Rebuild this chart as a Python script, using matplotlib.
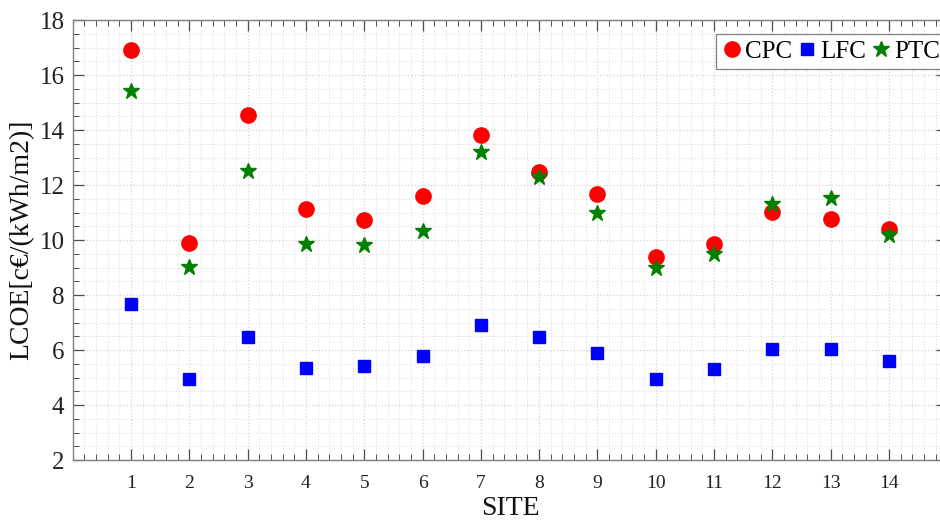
import numpy as np
import matplotlib
matplotlib.use("Agg")
import matplotlib.pyplot as plt
from matplotlib.ticker import MultipleLocator

plt.rcParams["font.family"] = ["Liberation Serif", "DejaVu Serif"]

# --- Datos --------------------------------------------------------------------
sites = [1, 2, 3, 4, 5, 6, 7, 8, 9, 10, 11, 12, 13, 14]
cpc = [16.91, 9.88, 14.55, 11.12, 10.73, 11.60, 13.82, 12.48, 11.66, 9.39, 9.84, 11.01, 10.76, 10.40]
lfc = [7.66, 4.93, 6.48, 5.33, 5.43, 5.77, 6.91, 6.48, 5.88, 4.93, 5.30, 6.05, 6.03, 5.60]
ptc = [15.43, 9.03, 12.52, 9.85, 9.83, 10.34, 13.19, 12.30, 10.97, 8.97, 9.49, 11.30, 11.51, 10.18]

fig = plt.figure(figsize=(9.4, 5.24), dpi=100)
ax = fig.add_axes([0.0774, 0.1221, 0.9303, 0.8397])

ax.plot(sites, cpc, "o", color="#ff0000", markersize=11, label="CPC", zorder=3)
ax.plot(sites, lfc, "s", color="#0000ff", markersize=8.3, label="LFC", zorder=3)
ax.plot(sites, ptc, "*", color="#008000", markersize=12, label="PTC", zorder=4)

ax.set_xlim(0, 15)
ax.set_ylim(2, 18)
ax.set_xticks(sites)
ax.set_yticks(np.arange(2, 19, 2))
ax.xaxis.set_minor_locator(MultipleLocator(0.2))
ax.yaxis.set_minor_locator(MultipleLocator(0.5))

# rejilla estilo MATLAB: punteada y clara
ax.grid(which="major", color="#d4d4d4", linestyle=":", linewidth=0.9)
ax.grid(which="minor", color="#e0e0e0", linestyle=":", linewidth=0.8)
ax.set_axisbelow(True)

for s in ax.spines.values():
    s.set_color("#7f7f7f")
    s.set_linewidth(1.0)

ax.tick_params(which="both", direction="in", top=True, right=True, colors="#4d4d4d")
ax.tick_params(which="major", length=8, width=0.9)
ax.tick_params(which="minor", length=4, width=0.7)
ax.tick_params(axis="x", labelsize=14, labelcolor="#222222", pad=11)
ax.tick_params(axis="y", labelsize=18, labelcolor="#222222", pad=6)

ax.set_xlabel("SITE", fontsize=20, color="#111111", labelpad=3)
ax.set_ylabel("LCOE[c€/(kWh/m2)]", fontsize=20, color="#111111", labelpad=4)

# leyenda: esquina superior izquierda anclada donde aparece en la figura original
leg = ax.legend(loc="upper left", bbox_to_anchor=(0.7356, 0.968), ncol=3, fontsize=18,
                frameon=True, fancybox=False, edgecolor="#7f7f7f", framealpha=1.0,
                handletextpad=0.1, columnspacing=0.22, handlelength=0.8,
                borderpad=0.25, borderaxespad=0.0)
leg.get_frame().set_linewidth(0.9)

fig.savefig("out.png", dpi=100)
